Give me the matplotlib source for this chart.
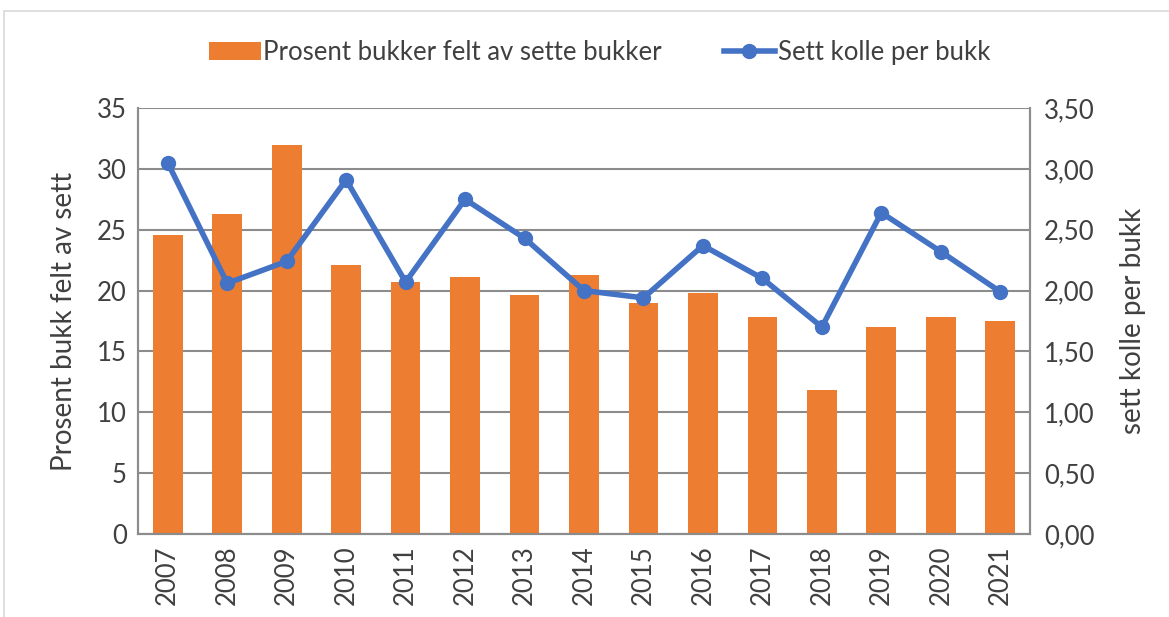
import matplotlib.pyplot as plt
import numpy as np
from matplotlib.patches import Rectangle

plt.rcParams['font.family'] = ['Lato', 'DejaVu Sans']

years = ['2007', '2008', '2009', '2010', '2011', '2012', '2013', '2014',
         '2015', '2016', '2017', '2018', '2019', '2020', '2021']
prosent_felt = [24.6, 26.3, 32.0, 22.1, 20.7, 21.1, 19.6, 21.3,
                19.0, 19.8, 17.8, 11.8, 17.0, 17.8, 17.5]
kolle_per_bukk = [3.05, 2.06, 2.24, 2.91, 2.07, 2.75, 2.43, 2.00,
                  1.94, 2.37, 2.10, 1.70, 2.64, 2.32, 1.99]

orange = '#ED7D31'
blue = '#4472C4'
grid = '#8c8c8c'
text = '#404040'

fig = plt.figure(figsize=(11.69, 6.17), dpi=100)
fig.patches.append(Rectangle((4 / 1169, -0.01), 1.1, (617 - 11) / 617 + 0.01,
                             transform=fig.transFigure, fill=False,
                             edgecolor='#d9d9d9', linewidth=1.2))

ax = fig.add_axes([138 / 1169, 83 / 617, 892 / 1169, 426 / 617])
x = np.arange(len(years))
bars = ax.bar(x, prosent_felt, width=0.5, color=orange, zorder=2,
              label='Prosent bukker felt av sette bukker')
ax.set_xlim(-0.5, len(years) - 0.5)
ax.set_ylim(0, 35)
ax.set_yticks(np.arange(0, 36, 5))
ax.yaxis.grid(True, color=grid, linewidth=1.5, zorder=0)
ax.set_axisbelow(True)
ax.set_xticks(x)
ax.set_xticklabels(years, rotation=90)
ax.tick_params(axis='both', length=0, labelsize=18.5, labelcolor=text, pad=8)
ax.set_ylabel('Prosent bukk felt av sett', fontsize=20, color=text, labelpad=14)
ax.spines['top'].set_visible(False)
for side in ['left', 'bottom', 'right']:
    ax.spines[side].set_color(grid)
    ax.spines[side].set_linewidth(1.5)

ax2 = ax.twinx()
line, = ax2.plot(x, kolle_per_bukk, color=blue, linewidth=4, marker='o',
                 markersize=10, zorder=3, label='Sett kolle per bukk')
ax2.set_ylim(0, 3.5)
ax2.set_yticks(np.arange(0, 3.51, 0.5))
ax2.set_yticklabels([f'{v:.2f}'.replace('.', ',') for v in np.arange(0, 3.51, 0.5)])
ax2.tick_params(axis='y', length=0, labelsize=18.5, labelcolor=text, pad=10)
ax2.set_ylabel('sett kolle per bukk', fontsize=20, color=text, labelpad=18)
ax2.spines['top'].set_visible(False)
for side in ['left', 'bottom', 'right']:
    ax2.spines[side].set_color(grid)
    ax2.spines[side].set_linewidth(1.5)

fig.legend([bars, line], ['Prosent bukker felt av sette bukker', 'Sett kolle per bukk'],
           loc='center', bbox_to_anchor=(0.513, 0.915), ncol=2, frameon=False,
           fontsize=18.5, labelcolor=text, handlelength=2.0, handletextpad=0.1,
           columnspacing=2.4)

fig.savefig('out.png', dpi=100)
